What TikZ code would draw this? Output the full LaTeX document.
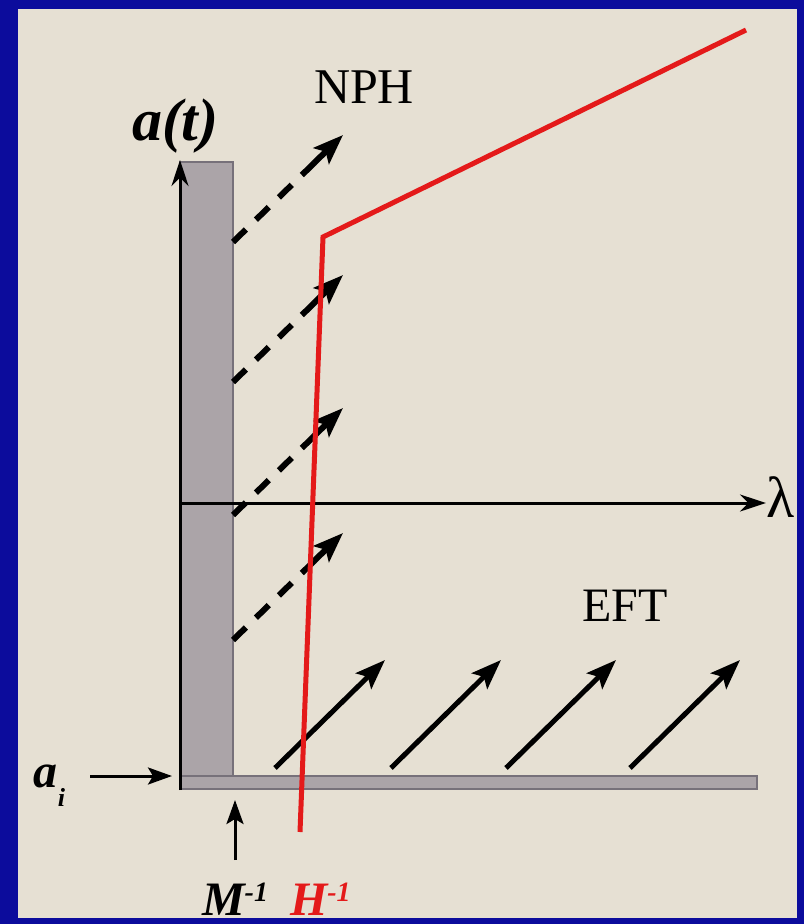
\documentclass[tikz,border=0pt]{standalone}
\usepackage{fontspec}
\setmainfont{Liberation Serif}
\usetikzlibrary{arrows.meta}
\definecolor{bgblue}{HTML}{0C0C9C}
\definecolor{beige}{HTML}{E6E0D3}
\definecolor{bargrey}{HTML}{ABA4A8}
\definecolor{baredge}{HTML}{77717A}
\definecolor{hred}{HTML}{E41A1A}
\tikzset{
  greybar/.style={fill=bargrey, draw=baredge, line width=1.5pt},
  axisline/.style={line width=3pt, black, -{Stealth[length=26pt,width=17pt]}},
  dashshaft/.style={line width=6pt, black, dash pattern=on 18pt off 14pt, shorten >=40pt},
  dashtip/.style={line width=6pt, black, -{Stealth[length=30pt,width=22pt,inset=6pt]}},
  solidarrow/.style={line width=5pt, black, -{Stealth[length=30pt,width=22pt,inset=6pt]}},
  pointer/.style={line width=3pt, black, -{Stealth[length=24pt,width=17pt,inset=5pt]}},
  redline/.style={line width=5pt, hred, line join=miter},
  lab/.style={inner sep=0pt, outer sep=0pt, font=\fontsize{48}{52}\selectfont},
  blab/.style={lab, font=\fontsize{48}{52}\selectfont\bfseries\itshape}
}
\begin{document}
\begin{tikzpicture}[x=1pt,y=-1pt]
\fill[bgblue] (0,0) rectangle (804,924);
\fill[beige] (18,9) rectangle (797,918);
\useasboundingbox (0,0) rectangle (804,924);
% grey bars
\filldraw[greybar] (180,162) rectangle (233,789);
\filldraw[greybar] (180,776) rectangle (757,789);
% coordinates
\coordinate (vbot) at (180,790);
\coordinate (vtop) at (180,160);
\coordinate (hleft) at (180,503);
\coordinate (hright) at (766,503);
% axes
\draw[axisline] (vbot) -- (vtop);
\draw[axisline] (hleft) -- (hright);
% dashed arrows (NPH)
\foreach \i/\y in {1/242,2/382,3/515,4/640}{
  \coordinate (ds\i) at (233,\y);
  \coordinate (de\i) at (343,\y-107);
  \coordinate (dm\i) at (314,\y-79);
  \draw[dashshaft] (ds\i) -- (de\i);
  \draw[dashtip] (dm\i) -- (de\i);
}
% solid arrows (EFT)
\foreach \i/\x in {1/275,2/391,3/506,4/630}{
  \coordinate (ss\i) at (\x,768);
  \coordinate (se\i) at (\x+110,660);
  \draw[solidarrow] (ss\i) -- (se\i);
}
% red line
\coordinate (r1) at (300,832);
\coordinate (r2) at (323,237);
\coordinate (r3) at (746,30);
\draw[redline] (r1) -- (r2) -- (r3);
% pointers
\coordinate (mb) at (235,860);
\coordinate (mt) at (235,800);
\draw[pointer] (mb) -- (mt);
\coordinate (al) at (90,776);
\coordinate (ar) at (172,776);
\draw[pointer] (al) -- (ar);
% labels
\node[blab, anchor=base west, font=\fontsize{60}{64}\selectfont\bfseries\itshape] (at) at (132,140) {a(t)};
\node[lab, anchor=base west, font=\fontsize{50}{54}\selectfont] (nph) at (314,103) {NPH};
\node[lab, anchor=base west] (eft) at (582,621) {EFT};
\node[lab, anchor=base west, font=\fontsize{58}{62}\selectfont] (lam) at (766,517) {λ};
\node[blab, anchor=base west] (ai) at (34,787) {a\raisebox{-19pt}{\fontsize{26}{26}\selectfont i}};
\node[blab, anchor=base west] (minv) at (202,915) {M\raisebox{14pt}{\fontsize{28}{28}\selectfont -1}};
\node[blab, anchor=base west, text=hred] (hinv) at (290,915) {H\raisebox{14pt}{\fontsize{28}{28}\selectfont -1}};
\end{tikzpicture}
\end{document}
